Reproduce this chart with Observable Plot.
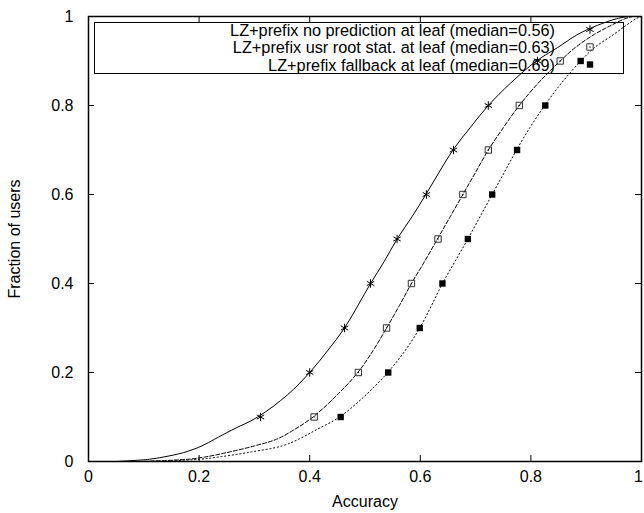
<!DOCTYPE html>
<html><head><meta charset="utf-8">
<script src="https://cdn.jsdelivr.net/npm/d3@7"></script>
<script src="https://cdn.jsdelivr.net/npm/@observablehq/plot@0.6"></script>
<style>
body{margin:0;background:#fff;}
#wrap{position:relative;width:644px;height:513px;font-family:"Liberation Sans",Arial,sans-serif;}
#legend{position:absolute;left:0;top:0;pointer-events:none;overflow:visible}
</style></head><body><div id="wrap"></div>
<script>
// CDF levels (fraction of users) shared by the three curves
const levels = [0, 0.005, 0.01, 0.02, 0.035, 0.05, 0.07, 0.1, 0.15, 0.2, 0.25, 0.3, 0.35, 0.4, 0.45, 0.5, 0.55, 0.6, 0.65, 0.7, 0.75, 0.8, 0.85, 0.9, 0.93, 0.96, 0.98, 0.995, 1];
// accuracy at each level
const noPredX   = [0.05, 0.11, 0.135, 0.172, 0.205, 0.228, 0.258, 0.306, 0.360, 0.400, 0.433, 0.463, 0.487, 0.510, 0.535, 0.558, 0.585, 0.610, 0.634, 0.659, 0.690, 0.723, 0.763, 0.810, 0.848, 0.885, 0.920, 0.955, 0.975];
const usrRootX  = [0.09, 0.18, 0.21, 0.25, 0.30, 0.34, 0.37, 0.406, 0.450, 0.487, 0.515, 0.539, 0.562, 0.584, 0.608, 0.631, 0.654, 0.677, 0.700, 0.723, 0.750, 0.779, 0.813, 0.853, 0.880, 0.915, 0.945, 0.970, 0.984];
const fallbackX = [0.13, 0.20, 0.235, 0.287, 0.35, 0.38, 0.41, 0.454, 0.502, 0.541, 0.573, 0.599, 0.620, 0.640, 0.663, 0.686, 0.708, 0.730, 0.752, 0.774, 0.798, 0.825, 0.855, 0.890, 0.915, 0.950, 0.972, 0.990, 0.998];

// point markers
const markerLevels = [0.1, 0.2, 0.3, 0.4, 0.5, 0.6, 0.7, 0.8, 0.9];
const noPredMarkX   = [0.311, 0.400, 0.463, 0.510, 0.558, 0.611, 0.660, 0.723, 0.812];
const usrRootMarkX  = [0.408, 0.488, 0.539, 0.584, 0.632, 0.677, 0.723, 0.779, 0.853];
const fallbackMarkX = [0.456, 0.542, 0.599, 0.640, 0.686, 0.730, 0.775, 0.826, 0.890];

const seriesNames = ["LZ+prefix no prediction at leaf", "LZ+prefix usr root stat. at leaf", "LZ+prefix fallback at leaf"];
const medians = [0.56, 0.63, 0.69];
const xTicks = [0, 0.2, 0.4, 0.6, 0.8];
const xLastTick = [1];
const yTicks = [0, 0.2, 0.4, 0.6, 0.8, 1];

const W = 644, H = 513, mL = 88, mR = 3, mT = 16, mB = 52;
const innerW = W - mL - mR, innerH = H - mT - mB;
const lineRows = xs => xs.map((x, i) => ({x, y: levels[i]}));
const markRows = xs => xs.map((x, i) => ({x, y: markerLevels[i]}));
const fmt = d => String(d);
const allX = xTicks.concat(xLastTick);

const chart = Plot.plot({
  width: W, height: H,
  marginLeft: mL, marginRight: mR, marginTop: mT, marginBottom: mB,
  style: {fontFamily: "Liberation Sans, Arial, sans-serif", fontSize: "16px", background: "#fff", color: "#000"},
  x: {domain: [0, 1]},
  y: {domain: [0, 1]},
  marks: [
    Plot.line(lineRows(noPredX), {x: "x", y: "y", stroke: "#000", strokeWidth: 1, curve: "catmull-rom"}),
    Plot.line(lineRows(usrRootX), {x: "x", y: "y", stroke: "#000", strokeWidth: 1, strokeDasharray: "4,2", curve: "catmull-rom"}),
    Plot.line(lineRows(fallbackX), {x: "x", y: "y", stroke: "#000", strokeWidth: 1, strokeDasharray: "1.2,2.6", curve: "catmull-rom"}),
    Plot.dot(markRows(noPredMarkX), {x: "x", y: "y", symbol: "asterisk", r: 4, stroke: "#000", strokeWidth: 1}),
    Plot.dot(markRows(usrRootMarkX), {x: "x", y: "y", symbol: "square", r: 3.6, stroke: "#333", fill: "none", strokeWidth: 1}),
    Plot.dot(markRows(usrRootMarkX), {x: "x", y: "y", r: 0.7, fill: "#000"}),
    Plot.dot(markRows(fallbackMarkX), {x: "x", y: "y", symbol: "square", r: 3.6, fill: "#000", stroke: "none"}),
    Plot.tickX(allX, {x: d => d, insetTop: innerH - 6, stroke: "#000"}),
    Plot.tickX(allX, {x: d => d, insetBottom: innerH - 6, stroke: "#000"}),
    Plot.tickY(yTicks, {y: d => d, insetRight: innerW - 6, stroke: "#000"}),
    Plot.tickY(yTicks, {y: d => d, insetLeft: innerW - 6, stroke: "#000"}),
    Plot.axisX({ticks: xTicks, tickSize: 0, tickPadding: 9, tickFormat: fmt, label: "Accuracy", labelAnchor: "center", labelArrow: "none", labelOffset: 45}),
    Plot.axisX({ticks: xLastTick, tickSize: 0, tickPadding: 9, tickFormat: fmt, label: null, dx: -3}),
    Plot.axisY({ticks: yTicks, tickSize: 0, tickPadding: 15, tickFormat: fmt, label: "Fraction of users", labelAnchor: "center", labelArrow: "none", labelOffset: 80}),
    Plot.frame({stroke: "#000", strokeWidth: 1.5})
  ]
});
document.getElementById("wrap").appendChild(chart);

// legend overlay (gnuplot-style key box)
const leg = d3.select("#wrap").append("svg").attr("id", "legend").attr("width", W).attr("height", H);
leg.append("rect").attr("x", 94.5).attr("y", 22.5).attr("width", 529).attr("height", 51)
  .attr("fill", "none").attr("stroke", "#000").attr("stroke-width", 1);
const rowY = [29.5, 47, 64.5];
const symbols = [
  {type: d3.symbolAsterisk, fill: "none", stroke: "#000", size: 4 * 4 * Math.PI},
  {type: d3.symbolSquare, fill: "none", stroke: "#333", size: 3.6 * 3.6 * Math.PI},
  {type: d3.symbolSquare, fill: "#000", stroke: "none", size: 3.6 * 3.6 * Math.PI}
];
seriesNames.forEach((name, i) => {
  leg.append("text").attr("x", 555).attr("y", rowY[i]).attr("text-anchor", "end")
    .attr("dominant-baseline", "central")
    .style("font-family", "Liberation Sans, Arial, sans-serif").style("font-size", "16.3px")
    .text(`${name} (median=${medians[i].toFixed(2)})`);
  const s = symbols[i];
  leg.append("path").attr("transform", `translate(590,${rowY[i]})`)
    .attr("d", d3.symbol(s.type, s.size)()).attr("fill", s.fill).attr("stroke", s.stroke);
  if (i === 1) leg.append("circle").attr("cx", 590).attr("cy", rowY[i]).attr("r", 0.7).attr("fill", "#000");
});
</script></body></html>
